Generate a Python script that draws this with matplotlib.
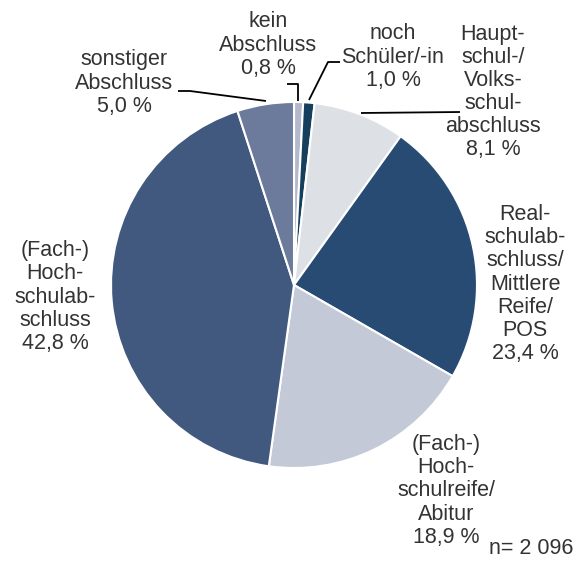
import matplotlib
matplotlib.use("Agg")
import matplotlib.pyplot as plt

# Schulabschluss der Befragten, Anteile in Prozent (n = 2 096)
categories = [
    "kein\nAbschluss",
    "noch\nSchüler/-in",
    "Haupt-\nschul-/\nVolks-\nschul-\nabschluss",
    "Real-\nschulab-\nschluss/\nMittlere\nReife/\nPOS",
    "(Fach-)\nHoch-\nschulreife/\nAbitur",
    "(Fach-)\nHoch-\nschulab-\nschluss",
    "sonstiger\nAbschluss",
]
shares = [0.8, 1.0, 8.1, 23.4, 18.9, 42.8, 5.0]
colors = ["#b3b8cc", "#163f5e", "#dde1e6", "#284b74", "#c4c9d8", "#42597f", "#6c7b9c"]
n_note = "n= 2 096"

# label centres in image pixels (x, y from top)
label_pos = [(268, 45), (393, 57), (493, 92), (525, 284), (446, 491), (55, 297), (124, 83)]
# leader lines, image pixels
leaders = [
    [(287, 84), (298, 84), (298, 101)],
    [(340, 62), (328, 62), (309, 100)],
    [(460, 112), (361, 113)],
    [(178, 91), (190, 91), (266, 101)],
]

W, H = 573, 561
fig = plt.figure(figsize=(W / 100, H / 100), dpi=100)
ax = fig.add_axes([0, 0, 1, 1])

ax.pie(shares, colors=colors, startangle=90, counterclock=False,
       center=(294, H - 285), radius=183, frame=True,
       wedgeprops=dict(edgecolor="white", linewidth=1.5))
ax.set_xlim(0, W)
ax.set_ylim(0, H)
ax.set_aspect("equal")
ax.axis("off")

font = dict(family=["Liberation Sans", "DejaVu Sans"], fontsize=15.5, color="#333333")
for cat, val, (x, y) in zip(categories, shares, label_pos):
    txt = cat + "\n" + f"{val:.1f}".replace(".", ",") + " %"
    ax.text(x, H - y, txt, ha="center", va="center", linespacing=1.13, **font)

for pts in leaders:
    xs = [p[0] for p in pts]
    ys = [H - p[1] for p in pts]
    ax.plot(xs, ys, color="black", linewidth=1.3, solid_capstyle="butt")

ax.text(531, H - 549, n_note, ha="center", va="center", **font)

fig.savefig("out.png", dpi=100)
